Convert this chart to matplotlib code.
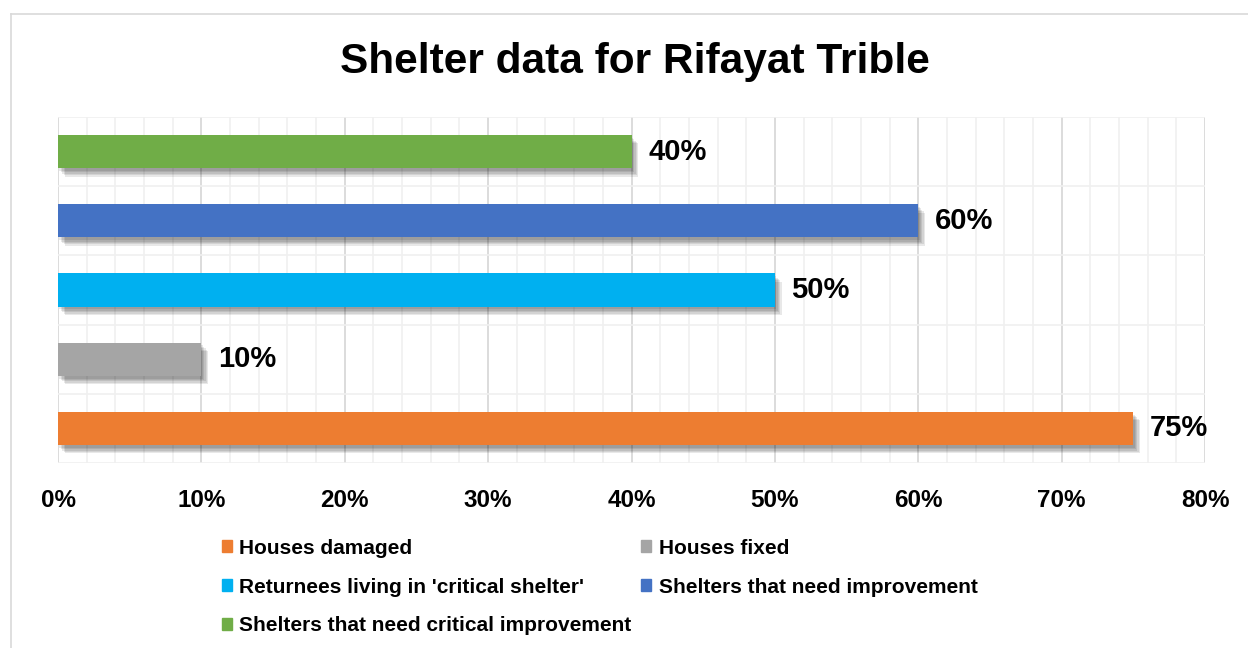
import matplotlib.pyplot as plt
import matplotlib.patheffects as pe
from matplotlib.lines import Line2D
from matplotlib.patches import Patch
import numpy as np

# shelter survey results (bottom to top)
categories = ["Houses damaged", "Houses fixed", "Returnees living in 'critical shelter'",
              "Shelters that need improvement", "Shelters that need critical improvement"]
values = [75, 10, 50, 60, 40]
colors = ["#ED7D31", "#A5A5A5", "#00B0F0", "#4472C4", "#70AD47"]
xticks = [0, 10, 20, 30, 40, 50, 60, 70, 80]

plt.rcParams['font.family'] = ['Liberation Sans', 'DejaVu Sans']
plt.rcParams['font.weight'] = 'bold'

fig = plt.figure(figsize=(12.48, 6.48), dpi=100)
ax = fig.add_axes([58 / 1248, 1 - 463 / 648, 1147 / 1248, 346 / 648])

# outer chart frame (left and top edges)
fig.add_artist(Line2D([11 / 1248, 11 / 1248], [0, 1 - 14 / 648], transform=fig.transFigure,
                      color='#D9D9D9', lw=1.2))
fig.add_artist(Line2D([11 / 1248, 1], [1 - 14 / 648, 1 - 14 / 648], transform=fig.transFigure,
                      color='#D9D9D9', lw=1.2))

y = np.arange(len(values))
# soft drop shadow built from a few stacked offsets
shadow = [pe.SimplePatchShadow(offset=(d, -d - 1), shadow_rgbFace='k', alpha=0.09)
          for d in (1, 2, 3, 4, 5)]
bars = ax.barh(y, values, height=0.48, color=colors, zorder=3)
for b in bars:
    b.set_path_effects(shadow + [pe.Normal()])

for yi, v in zip(y, values):
    ax.annotate(f"{v}%", (v, yi), xytext=(12, 0), textcoords='offset points',
                va='center', ha='left', fontsize=21, fontweight='bold', zorder=4)

ax.set_xlim(0, 80)
ax.set_ylim(-0.5, len(values) - 0.5)
ax.set_xticks(xticks)
ax.set_xticklabels([f"{t}%" for t in xticks], fontsize=17.5, fontweight='bold')
ax.set_xticks(np.arange(0, 81, 2), minor=True)
ax.set_yticks([])
ax.set_yticks(np.arange(-0.5, len(values), 1), minor=True)
ax.tick_params(axis='both', which='both', length=0)
ax.tick_params(axis='x', pad=19)
ax.grid(True, which='major', axis='x', color='#D9D9D9', lw=1.3, zorder=0)
ax.grid(True, which='minor', axis='both', color='#F0F0F0', lw=1.2, zorder=0)
ax.set_axisbelow(True)
for s in ax.spines.values():
    s.set_visible(False)

fig.text(635 / 1248, 1 - 62 / 648, "Shelter data for Rifayat Trible", ha='center', va='center',
         fontsize=30.5, fontweight='bold')

# legend in Excel order, row by row over two columns
order = [0, 2, 4, 1, 3]
handles = [Patch(color=colors[i], label=categories[i]) for i in order]
fig.legend(handles=handles, ncol=2, loc='upper left', bbox_to_anchor=(203 / 1248, 1 - 520 / 648),
           frameon=False, prop={'weight': 'bold', 'size': 15},
           handlelength=0.5, handleheight=0.5, handletextpad=0.35,
           columnspacing=0.45, labelspacing=0.95)

fig.savefig("out.png", dpi=100)
